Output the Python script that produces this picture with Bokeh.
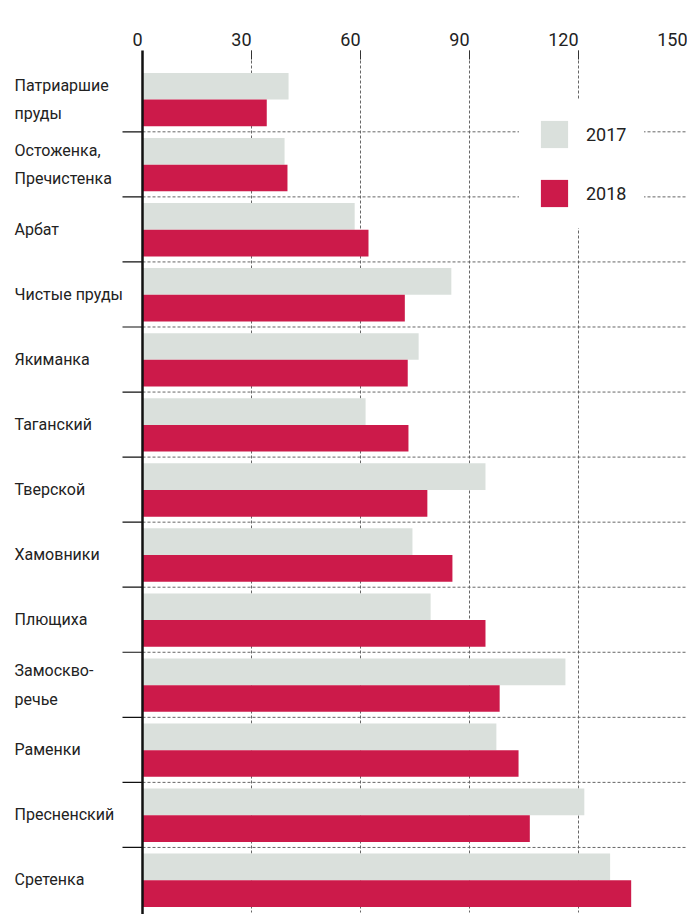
from bokeh.plotting import figure
from bokeh.models import ColumnDataSource, Range1d, Legend, LegendItem
from bokeh.core.properties import value
from bokeh.embed import file_html
from bokeh.resources import INLINE

districts = ["Патриаршие\nпруды", "Остоженка,\nПречистенка", "Арбат", "Чистые пруды",
             "Якиманка", "Таганский", "Тверской", "Хамовники", "Плющиха",
             "Замоскво-\nречье", "Раменки", "Пресненский", "Сретенка"]
v2017 = [40.2, 39.1, 58.4, 85.0, 76.0, 61.4, 94.4, 74.3, 79.3, 116.4, 97.4, 121.6, 128.7]
v2018 = [34.2, 39.9, 62.2, 72.2, 73.0, 73.2, 78.4, 85.3, 94.4, 98.3, 103.5, 106.6, 134.5]
x_ticks = [0, 30, 60, 90, 120, 150]
series = ["2017", "2018"]

FONT = "Roboto"
GREY = "#dae0dc"
RED = "#cc1a4a"
TXT = "#222222"
GRID = "#666666"

W, H = 687, 914
LEFT, TOP, BOTTOM = 142, 50, 912          # pixel positions of axis, top, bottom
n = len(districts)
idx = list(range(n))
y_top = -0.25                              # data value at the top line
PY = (BOTTOM - TOP) / (n - y_top)          # px per category
PXU = (W - LEFT) / x_ticks[-1]             # px per x unit

p = figure(width=W, height=H, output_backend="svg", toolbar_location=None,
           x_range=Range1d(-LEFT / PXU, x_ticks[-1]),
           y_range=Range1d(n + (H - BOTTOM) / PY, y_top - TOP / PY),
           min_border=0, x_axis_location=None, y_axis_location=None)
p.outline_line_color = None
p.xgrid.visible = False
p.ygrid.visible = False

# dashed grid (under the bars)
gx = x_ticks[1:-1]
p.segment(x0=gx, x1=gx, y0=[y_top] * len(gx), y1=[n] * len(gx),
          line_color=GRID, line_width=1, line_dash="3 2")
bounds = list(range(1, n))
p.segment(x0=[0] * len(bounds), x1=[x_ticks[-1]] * len(bounds), y0=bounds, y1=bounds,
          line_color=GRID, line_width=1, line_dash="3 2")

src = ColumnDataSource(dict(
    y17=[i + 0.3 for i in idx], y18=[i + 0.71 for i in idx],
    v17=v2017, v18=v2018))
r17 = p.hbar(y="y17", left=0, right="v17", height=0.41, source=src,
             fill_color=GREY, line_color=None)
r18 = p.hbar(y="y18", left=0, right="v18", height=0.41, source=src,
             fill_color=RED, line_color=None)

# top tick marks
tk = x_ticks[1:]
p.segment(x0=tk, x1=tk, y0=[y_top] * len(tk), y1=[y_top + 9 / PY] * len(tk),
          line_color="#333333", line_width=1)
# left axis ticks at category boundaries and axis line
p.segment(x0=[-20 / PXU] * len(bounds), x1=[0] * len(bounds), y0=bounds, y1=bounds,
          line_color="#111111", line_width=1.2)
p.segment(x0=[0], x1=[0], y0=[y_top], y1=[n + (H - BOTTOM) / PY],
          line_color="#111111", line_width=2.5)

# tick labels (right aligned at the tick)
p.text(x=x_ticks, y=[y_top - 11 / PY] * len(x_ticks), text=[str(t) for t in x_ticks],
       text_align="right", text_baseline="alphabetic", text_font=value(FONT),
       text_font_size="18px", text_color=TXT)

# category labels
p.text(x=[-(LEFT - 14) / PXU] * n, y=[i + 0.5 for i in idx], text=districts,
       text_align="left", text_baseline="middle", text_font=value(FONT),
       text_font_size="16px", text_color=TXT, text_line_height=1.5)

legend = Legend(items=[LegendItem(label=series[0], renderers=[r17]),
                       LegendItem(label=series[1], renderers=[r18])],
                location=(519, 686), orientation="vertical",
                padding=17, margin=0, spacing=25, glyph_width=34, glyph_height=34,
                label_standoff=15, label_width=38, label_height=34,
                label_text_font=FONT, label_text_font_size="18px",
                label_text_color=TXT, label_text_baseline="middle",
                border_line_color="white", background_fill_color="white",
                background_fill_alpha=1.0)
p.add_layout(legend, "center")

open("out.html", "w").write(file_html(p, INLINE))
